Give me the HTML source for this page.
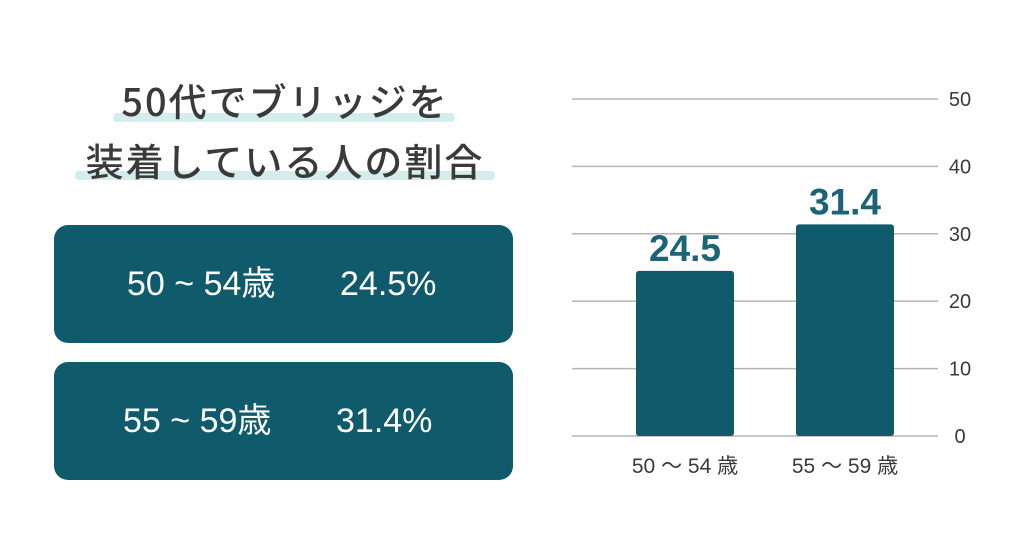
<!DOCTYPE html>
<html><head><meta charset="utf-8"><style>
body{margin:0;width:1024px;height:538px;background:#fff;overflow:hidden;position:relative;font-family:"Liberation Sans","Noto Sans CJK JP",sans-serif;}
.hl{position:absolute;background:#d3ecec;height:9px;border-radius:4px;}
.t{position:absolute;left:0;width:570px;text-align:center;font-size:38px;font-weight:500;color:#3a3a3a;letter-spacing:2px;font-family:"Noto Sans CJK JP",sans-serif;line-height:44px;}
.box{position:absolute;left:54px;width:459px;height:118px;background:#0f5a6b;border-radius:14px;color:#fff;font-size:34px;}
.box span{position:absolute;top:40px;line-height:38px;font-family:"Liberation Sans","Noto Sans CJK JP",sans-serif;white-space:pre;}
</style></head><body>
<div class="hl" style="left:113px;top:113px;width:342px"></div>
<div class="hl" style="left:75px;top:171px;width:420px"></div>
<div class="t" style="top:78px">50代でブリッジを</div>
<div class="t" style="top:138px">装着している人の割合</div>
<div class="box" style="top:225px"><span style="left:73px">50 ~ 54歳</span><span style="left:286px">24.5%</span></div>
<div class="box" style="top:362px"><span style="left:69px">55 ~ 59歳</span><span style="left:282px">31.4%</span></div>
<svg id="chart" width="1024" height="538" style="position:absolute;left:0;top:0"></svg>
<script>
const categories=["50 〜 54 歳","55 〜 59 歳"];
const values=[24.5,31.4];
const valueLabels=["24.5","31.4"];
const ticks=[0,10,20,30,40,50];
const svg=document.getElementById('chart');
const NS='http://www.w3.org/2000/svg';
const y0=436,y1=99,vmax=50;
const y=v=>y0-(v/vmax)*(y0-y1);
const xs=[636,796],bw=98;
function mk(t,a){const e=document.createElementNS(NS,t);for(const k in a)e.setAttribute(k,a[k]);svg.appendChild(e);return e;}
ticks.forEach(t=>{
 const l=mk('line',{x1:572,x2:938,y1:y(t),y2:y(t),stroke:'#b5b5b5','stroke-width':1.5});
 
 
 const tx=mk('text',{x:960,y:y(t)+7,'text-anchor':'middle','font-size':20,fill:'#3a3a3a','font-family':'Liberation Sans, sans-serif'});
 tx.textContent=t;
 
 
});
values.forEach((v,i)=>{
 const r=mk('rect',{x:xs[i],y:y(v),width:bw,height:y0-y(v),rx:3,fill:'#0f5a6b'});
 
 
 const lb=mk('text',{x:xs[i]+bw/2,y:y(v)-10,'text-anchor':'middle','font-size':37,'font-weight':'bold',fill:'#1b6478','font-family':'Liberation Sans, sans-serif'});
 lb.textContent=valueLabels[i];
 
 
 const c=mk('text',{x:xs[i]+bw/2,y:473,'text-anchor':'middle','font-size':21,fill:'#3a3a3a','font-family':'Liberation Sans, Noto Sans CJK JP, sans-serif'});
 c.textContent=categories[i];
 
 
});
</script>
</body></html>
